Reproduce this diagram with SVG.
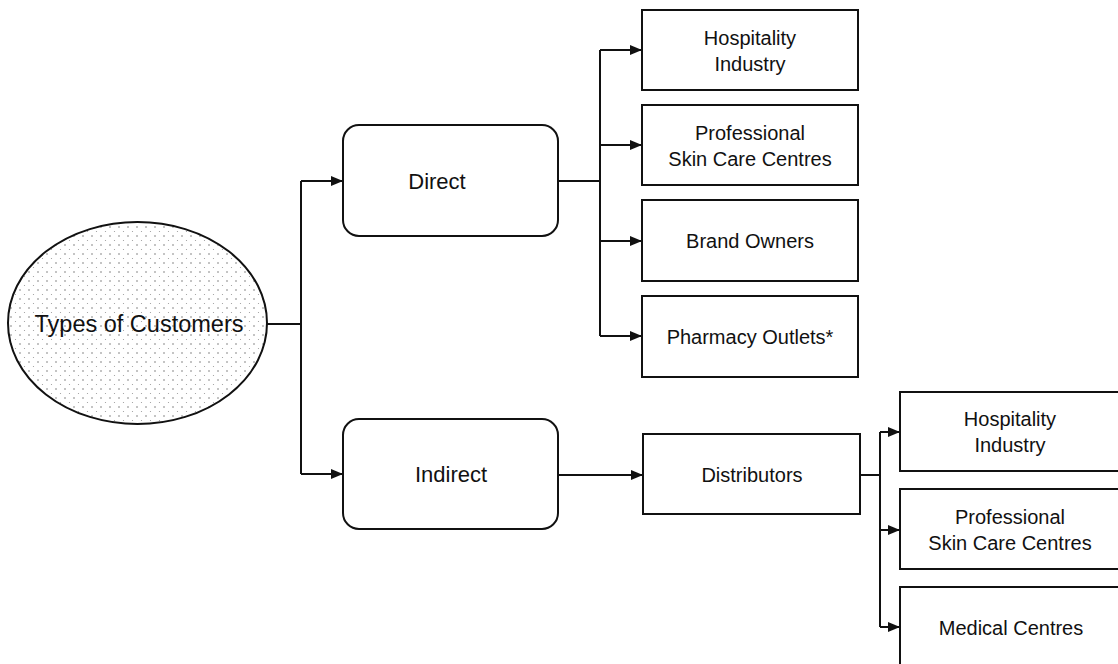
<svg xmlns="http://www.w3.org/2000/svg" width="1118" height="664" viewBox="0 0 1118 664">
<style>
.box{fill:#fff;stroke:#111;stroke-width:2}
.t{font-family:"Liberation Sans",Arial,sans-serif;font-size:20px;fill:#111;text-anchor:middle}
.tb{font-family:"Liberation Sans",Arial,sans-serif;font-size:22px;fill:#111;text-anchor:middle}
.c{fill:none;stroke:#111;stroke-width:2}
</style>
<defs>
<marker id="ah" viewBox="0 0 12 10" refX="12" refY="5" markerWidth="12" markerHeight="10" markerUnits="userSpaceOnUse" orient="auto">
<path d="M0,0 L12,5 L0,10 Z" fill="#111"/>
</marker>
<pattern id="dots" width="9" height="9" patternUnits="userSpaceOnUse">
<circle cx="2" cy="2" r="0.8" fill="#777"/>
<circle cx="6.5" cy="6.5" r="0.6" fill="#999"/>
</pattern>
</defs>
<rect width="1118" height="664" fill="#fff"/>
<g id="connectors">
<path class="c" d="M267,324 H301"/>
<path class="c" d="M301,181 V474"/>
<path class="c" d="M301,181 H343" marker-end="url(#ah)"/>
<path class="c" d="M301,474 H343" marker-end="url(#ah)"/>
<path class="c" d="M558,181 H600"/>
<path class="c" d="M600,50 V336"/>
<path class="c" d="M600,50 H642" marker-end="url(#ah)"/>
<path class="c" d="M600,145 H642" marker-end="url(#ah)"/>
<path class="c" d="M600,241 H642" marker-end="url(#ah)"/>
<path class="c" d="M600,336 H642" marker-end="url(#ah)"/>
<path class="c" d="M558,475 H643" marker-end="url(#ah)"/>
<path class="c" d="M860,475 H880"/>
<path class="c" d="M880,432 V627"/>
<path class="c" d="M880,432 H900" marker-end="url(#ah)"/>
<path class="c" d="M880,530 H900" marker-end="url(#ah)"/>
<path class="c" d="M880,627 H900" marker-end="url(#ah)"/>
</g>
<g id="types">
<ellipse cx="137.5" cy="323" rx="129.5" ry="101" fill="url(#dots)" stroke="#111" stroke-width="2"/>
<text class="tb" x="139" y="332" style="font-size:23.5px">Types of Customers</text>
</g>
<g id="direct">
<rect class="box" x="343" y="125" width="215" height="111" rx="16"/>
<text class="tb" x="437" y="189">Direct</text>
</g>
<g id="indirect">
<rect class="box" x="343" y="419" width="215" height="110" rx="16"/>
<text class="tb" x="451" y="482">Indirect</text>
</g>
<g id="d-hospitality">
<rect class="box" x="642" y="10" width="216" height="80"/>
<text class="t" x="750" y="45">Hospitality</text>
<text class="t" x="750" y="71">Industry</text>
</g>
<g id="d-skincare">
<rect class="box" x="642" y="105" width="216" height="80"/>
<text class="t" x="750" y="140">Professional</text>
<text class="t" x="750" y="166">Skin Care Centres</text>
</g>
<g id="d-brand">
<rect class="box" x="642" y="200" width="216" height="81"/>
<text class="t" x="750" y="248">Brand Owners</text>
</g>
<g id="d-pharmacy">
<rect class="box" x="642" y="296" width="216" height="81"/>
<text class="t" x="750" y="344">Pharmacy Outlets*</text>
</g>
<g id="distributors">
<rect class="box" x="643" y="434" width="217" height="80"/>
<text class="t" x="752" y="482">Distributors</text>
</g>
<g id="i-hospitality">
<rect class="box" x="900" y="392" width="220" height="79"/>
<text class="t" x="1010" y="426">Hospitality</text>
<text class="t" x="1010" y="452">Industry</text>
</g>
<g id="i-skincare">
<rect class="box" x="900" y="489" width="220" height="80"/>
<text class="t" x="1010" y="524">Professional</text>
<text class="t" x="1010" y="550">Skin Care Centres</text>
</g>
<g id="i-medical">
<rect class="box" x="900" y="587" width="220" height="90"/>
<text class="t" x="1011" y="635">Medical Centres</text>
</g>
</svg>
